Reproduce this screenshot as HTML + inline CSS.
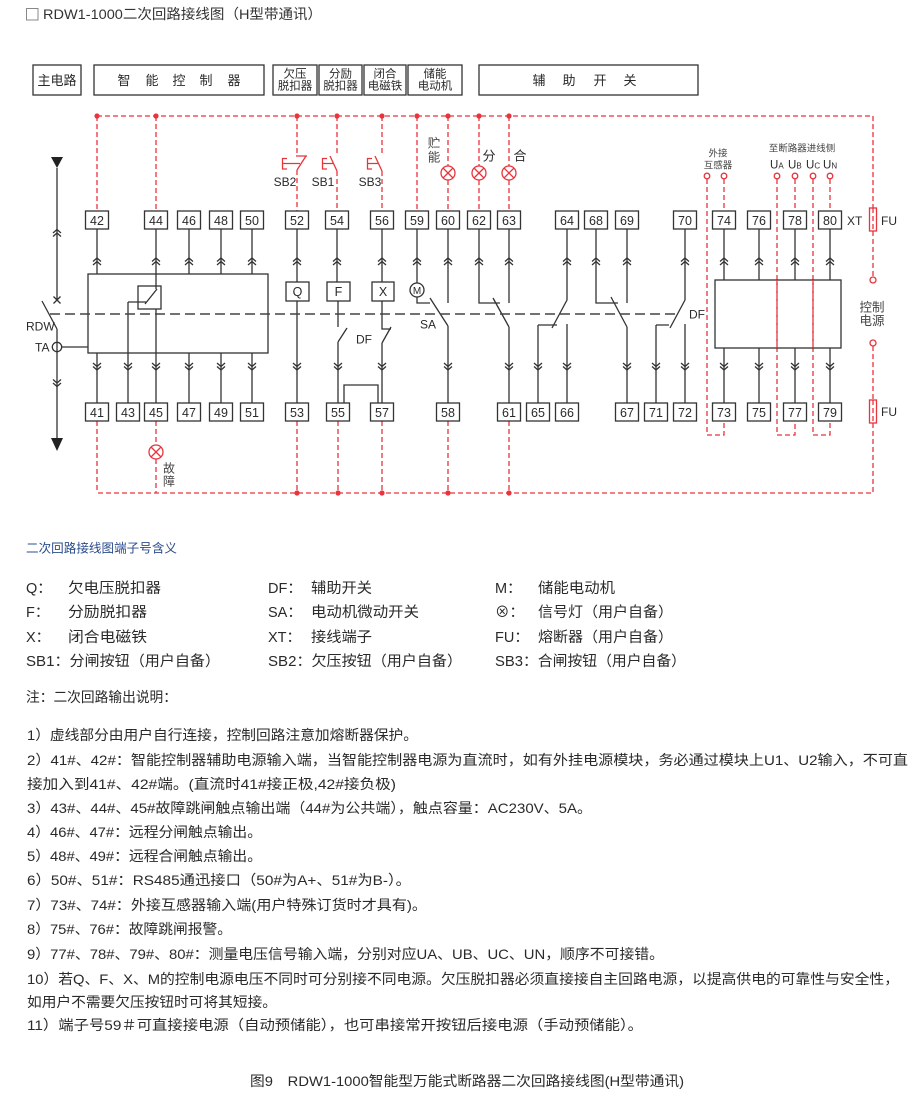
<!DOCTYPE html>
<html>
<head>
<meta charset="utf-8">
<style>
html,body{margin:0;padding:0;background:#fff;}
svg{display:block;}
text{font-family:"Liberation Sans","Noto Sans CJK SC",sans-serif;fill:#2a2a2a;}
.k{stroke:#333;stroke-width:1.3;fill:none;}
.kd{stroke:#444;stroke-width:1.6;fill:none;stroke-dasharray:10 5;}
.r{stroke:#e8343c;stroke-width:1.3;fill:none;stroke-dasharray:5 3;}
.rs{stroke:#e8343c;stroke-width:1.3;fill:none;}
.rf{fill:#e8343c;stroke:none;}
.bx{stroke:#333;stroke-width:1.3;fill:#fff;}
.n{font-size:12.5px;text-anchor:middle;}
.c{text-anchor:middle;}
</style>
</head>
<body>
<svg width="920" height="1093" viewBox="0 0 920 1093" xmlns="http://www.w3.org/2000/svg">

<!-- Title -->
<rect x="26.5" y="8.5" width="11.5" height="11.5" fill="none" stroke="#888" stroke-width="1"/>
<text x="43" y="19" font-size="14" textLength="279" lengthAdjust="spacingAndGlyphs" style="fill:#333">RDW1-1000二次回路接线图（H型带通讯）</text>

<!-- Header boxes -->
<g>
<rect x="33" y="65" width="48" height="30" class="bx"/>
<text x="57" y="85" font-size="13" class="c">主电路</text>
<rect x="94" y="65" width="170" height="30" class="bx"/>
<text x="124" y="85" font-size="13" class="c">智</text>
<text x="152" y="85" font-size="13" class="c">能</text>
<text x="179" y="85" font-size="13" class="c">控</text>
<text x="206" y="85" font-size="13" class="c">制</text>
<text x="234" y="85" font-size="13" class="c">器</text>
<rect x="273" y="65" width="44" height="30" class="bx"/>
<text x="295" y="77.5" font-size="11.5" class="c">欠压</text>
<text x="295" y="89.5" font-size="11.5" class="c">脱扣器</text>
<rect x="319" y="65" width="43" height="30" class="bx"/>
<text x="340.5" y="77.5" font-size="11.5" class="c">分励</text>
<text x="340.5" y="89.5" font-size="11.5" class="c">脱扣器</text>
<rect x="364" y="65" width="42" height="30" class="bx"/>
<text x="385" y="77.5" font-size="11.5" class="c">闭合</text>
<text x="385" y="89.5" font-size="11.5" class="c">电磁铁</text>
<rect x="408" y="65" width="54" height="30" class="bx"/>
<text x="435" y="77.5" font-size="11.5" class="c">储能</text>
<text x="435" y="89.5" font-size="11.5" class="c">电动机</text>
<rect x="479" y="65" width="219" height="30" class="bx"/>
<text x="539" y="85" font-size="13" class="c">辅</text>
<text x="569" y="85" font-size="13" class="c">助</text>
<text x="600" y="85" font-size="13" class="c">开</text>
<text x="630" y="85" font-size="13" class="c">关</text>
</g>

<!-- Red dashed wiring -->
<path class="r" d="M97,116H873V208 M873,231V277 M873,346V400 M873,423V493H97
M97,116V211 M156,116V211 M297,116V155 M297,170V211 M337,116V155 M337,171V211 M382,116V155 M382,171V211
M417,116V211 M448,116V166 M448,180V211 M479,116V166 M479,180V211 M509,116V166 M509,180V211
M97,421V493 M156,421V445 M156,459V493 M297,421V493 M338,421V493 M382,421V493 M448,421V493 M509,421V493
M707,179V435H724V421 M724,179V211 M777,179V435H795V421 M795,179V211 M813,179V435H830V421 M830,179V211
M873,208V231 M873,400V423"/>

<!-- red dots -->
<g class="rf">
<circle cx="97" cy="116" r="2.6"/><circle cx="156" cy="116" r="2.6"/><circle cx="297" cy="116" r="2.6"/>
<circle cx="337" cy="116" r="2.6"/><circle cx="382" cy="116" r="2.6"/><circle cx="417" cy="116" r="2.6"/>
<circle cx="448" cy="116" r="2.6"/><circle cx="479" cy="116" r="2.6"/><circle cx="509" cy="116" r="2.6"/>
<circle cx="297" cy="493" r="2.6"/><circle cx="338" cy="493" r="2.6"/><circle cx="382" cy="493" r="2.6"/>
<circle cx="448" cy="493" r="2.6"/><circle cx="509" cy="493" r="2.6"/>
</g>

<!-- red solid symbols -->
<g class="rs">
<path d="M287,158.5H282.5V169H287 M282.5,163.5H300 M296,156H307 M297,170L306,156"/>
<path d="M327,158.5H322.5V169H327 M322.5,163.5H333 M337,171L330,156"/>
<path d="M372,158.5H367.5V169H372 M367.5,163.5H378 M382,171L375,156"/>
<circle cx="448" cy="173" r="7" fill="#fff"/><path d="M443,168L453,178M453,168L443,178"/>
<circle cx="479" cy="173" r="7" fill="#fff"/><path d="M474,168L484,178M484,168L474,178"/>
<circle cx="509" cy="173" r="7" fill="#fff"/><path d="M504,168L514,178M514,168L504,178"/>
<circle cx="156" cy="452" r="7" fill="#fff"/><path d="M151,447L161,457M161,447L151,457"/>
<circle cx="707" cy="176" r="2.8" fill="#fff"/><circle cx="724" cy="176" r="2.8" fill="#fff"/>
<circle cx="777" cy="176" r="2.8" fill="#fff"/><circle cx="795" cy="176" r="2.8" fill="#fff"/>
<circle cx="813" cy="176" r="2.8" fill="#fff"/><circle cx="830" cy="176" r="2.8" fill="#fff"/>
<circle cx="873" cy="280" r="3" fill="#fff"/><circle cx="873" cy="343" r="3" fill="#fff"/>
<rect x="869.5" y="208" width="7" height="23"/>
<rect x="869.5" y="400" width="7" height="23"/>
</g>

<!-- red area labels -->
<text x="285" y="186" font-size="12" class="c">SB2</text>
<text x="323" y="186" font-size="12" class="c">SB1</text>
<text x="370" y="186" font-size="12" class="c">SB3</text>
<text x="434" y="147.5" font-size="12.5" class="c" style="fill:#444">贮</text>
<text x="434" y="161.5" font-size="12.5" class="c" style="fill:#444">能</text>
<text x="489" y="160.5" font-size="13" class="c">分</text>
<text x="520" y="160.5" font-size="13" class="c">合</text>
<text x="169" y="472.5" font-size="12" class="c" style="fill:#444">故</text>
<text x="169" y="485.5" font-size="12" class="c" style="fill:#444">障</text>
<text x="718" y="156.5" font-size="9.5" class="c" style="fill:#444">外接</text>
<text x="718" y="168.5" font-size="9.5" class="c" style="fill:#444">互感器</text>
<text x="802" y="151.5" font-size="9.5" class="c" style="fill:#444">至断路器进线侧</text>
<text x="770" y="168.5" font-size="11.5">U<tspan font-size="8">A</tspan></text>
<text x="788" y="168.5" font-size="11.5">U<tspan font-size="8">B</tspan></text>
<text x="806" y="168.5" font-size="11.5">U<tspan font-size="8">C</tspan></text>
<text x="823" y="168.5" font-size="11.5">U<tspan font-size="8">N</tspan></text>
<text x="847" y="225" font-size="12">XT</text>
<text x="881" y="225" font-size="12">FU</text>
<text x="881" y="416" font-size="12">FU</text>
<text x="872" y="311.5" font-size="12.5" class="c" style="fill:#444">控制</text>
<text x="872" y="325" font-size="12.5" class="c" style="fill:#444">电源</text>

<!-- Black wiring -->
<path class="k" d="
M97,229V274 M156,229V289 M189,229V274 M221,229V274 M252,229V274
M297,229V282 M337,229V282 M382,229V282 M417,229V283
M448,229V303 M479,229V303H500 M509,229V303 M567,229V300L552,328 M596,229V303H618 M627,229V303 M685,229V300L670,328
M724,229V280 M759,229V280 M795,229V280 M830,229V280
M97,353V403 M128,302V403 M128,302H146 M156,309V403 M189,353V403 M221,353V403 M252,353V403
M297,301V403
M338,301V327 M338,342V403 M338,342L347,328
M382,301V329H391 M382,343V403 M382,343L391,327
M417,297V303H430 M430,298L448,326 M448,326V403
M493,298L509,327 M509,327V403
M538,325H557 M538,325V403 M567,324V403
M611,297L627,327 M627,327V403
M656,325H669 M656,325V403 M685,324V403
M724,348V403 M759,348V403 M795,348V403 M830,348V403
M157,289L145,304
M57,168V300 M57,329V438 M42,301L57,329 M53.5,296.5L60.5,303.5 M60.5,296.5L53.5,303.5 M62,347H88
M344,403V385H378V403"/>

<path d="M51,157H63L57,168Z" fill="#222"/>
<path d="M51,438H63L57,451Z" fill="#222"/>
<circle cx="57" cy="347" r="4.7" class="k"/>
<text x="26" y="330.5" font-size="12">RDW</text>
<text x="35" y="351.5" font-size="12">TA</text>

<rect x="88" y="274" width="180" height="79" class="k"/>
<rect x="138" y="286" width="23" height="23" class="k"/>
<rect x="715" y="280" width="126" height="68" class="k"/>

<path class="kd" d="M50,314H680"/>
<text x="689" y="318.5" font-size="12">DF</text>
<text x="356" y="343.5" font-size="12">DF</text>
<text x="420" y="328.5" font-size="12">SA</text>

<rect x="286" y="282" width="23" height="19" class="bx"/><text x="297.5" y="296" font-size="12.5" class="c">Q</text>
<rect x="327" y="282" width="23" height="19" class="bx"/><text x="338.5" y="296" font-size="12.5" class="c">F</text>
<rect x="372" y="282" width="22" height="19" class="bx"/><text x="383" y="296" font-size="12.5" class="c">X</text>
<circle cx="417" cy="290" r="7" class="bx"/><text x="417" y="294" font-size="10" class="c">M</text>

<path class="r" d="M777,280V348 M813,280V348"/>

<g class="k" stroke-width="1.1">
<path d="
M93,261.5L97,258L101,261.5M93,265L97,261.5L101,265
M152,261.5L156,258L160,261.5M152,265L156,261.5L160,265
M185,261.5L189,258L193,261.5M185,265L189,261.5L193,265
M217,261.5L221,258L225,261.5M217,265L221,261.5L225,265
M248,261.5L252,258L256,261.5M248,265L252,261.5L256,265
M293,261.5L297,258L301,261.5M293,265L297,261.5L301,265
M333,261.5L337,258L341,261.5M333,265L337,261.5L341,265
M378,261.5L382,258L386,261.5M378,265L382,261.5L386,265
M413,261.5L417,258L421,261.5M413,265L417,261.5L421,265
M444,261.5L448,258L452,261.5M444,265L448,261.5L452,265
M475,261.5L479,258L483,261.5M475,265L479,261.5L483,265
M505,261.5L509,258L513,261.5M505,265L509,261.5L513,265
M563,261.5L567,258L571,261.5M563,265L567,261.5L571,265
M592,261.5L596,258L600,261.5M592,265L596,261.5L600,265
M623,261.5L627,258L631,261.5M623,265L627,261.5L631,265
M681,261.5L685,258L689,261.5M681,265L685,261.5L689,265
M720,261.5L724,258L728,261.5M720,265L724,261.5L728,265
M755,261.5L759,258L763,261.5M755,265L759,261.5L763,265
M791,261.5L795,258L799,261.5M791,265L795,261.5L799,265
M826,261.5L830,258L834,261.5M826,265L830,261.5L834,265
M53,233L57,229.5L61,233M53,236.5L57,233L61,236.5
"/>
<path d="
M93,363L97,366.5L101,363M93,366.5L97,370L101,366.5
M124,363L128,366.5L132,363M124,366.5L128,370L132,366.5
M152,363L156,366.5L160,363M152,366.5L156,370L160,366.5
M185,363L189,366.5L193,363M185,366.5L189,370L193,366.5
M217,363L221,366.5L225,363M217,366.5L221,370L225,366.5
M248,363L252,366.5L256,363M248,366.5L252,370L256,366.5
M293,363L297,366.5L301,363M293,366.5L297,370L301,366.5
M334,363L338,366.5L342,363M334,366.5L338,370L342,366.5
M378,363L382,366.5L386,363M378,366.5L382,370L386,366.5
M444,363L448,366.5L452,363M444,366.5L448,370L452,366.5
M505,363L509,366.5L513,363M505,366.5L509,370L513,366.5
M534,363L538,366.5L542,363M534,366.5L538,370L542,366.5
M563,363L567,366.5L571,363M563,366.5L567,370L571,366.5
M623,363L627,366.5L631,363M623,366.5L627,370L631,366.5
M652,363L656,366.5L660,363M652,366.5L656,370L660,366.5
M681,363L685,366.5L689,363M681,366.5L685,370L689,366.5
M720,363L724,366.5L728,363M720,366.5L724,370L728,366.5
M755,363L759,366.5L763,363M755,366.5L759,370L763,366.5
M791,363L795,366.5L799,363M791,366.5L795,370L799,366.5
M826,363L830,366.5L834,363M826,366.5L830,370L834,366.5
M53,379.5L57,383L61,379.5M53,383L57,386.5L61,383
"/>
</g>

<g>
<rect x="85.5" y="211" width="23" height="18" class="bx"/><text x="97" y="225" class="n">42</text>
<rect x="144.5" y="211" width="23" height="18" class="bx"/><text x="156" y="225" class="n">44</text>
<rect x="177.5" y="211" width="23" height="18" class="bx"/><text x="189" y="225" class="n">46</text>
<rect x="209.5" y="211" width="23" height="18" class="bx"/><text x="221" y="225" class="n">48</text>
<rect x="240.5" y="211" width="23" height="18" class="bx"/><text x="252" y="225" class="n">50</text>
<rect x="285.5" y="211" width="23" height="18" class="bx"/><text x="297" y="225" class="n">52</text>
<rect x="325.5" y="211" width="23" height="18" class="bx"/><text x="337" y="225" class="n">54</text>
<rect x="370.5" y="211" width="23" height="18" class="bx"/><text x="382" y="225" class="n">56</text>
<rect x="405.5" y="211" width="23" height="18" class="bx"/><text x="417" y="225" class="n">59</text>
<rect x="436.5" y="211" width="23" height="18" class="bx"/><text x="448" y="225" class="n">60</text>
<rect x="467.5" y="211" width="23" height="18" class="bx"/><text x="479" y="225" class="n">62</text>
<rect x="497.5" y="211" width="23" height="18" class="bx"/><text x="509" y="225" class="n">63</text>
<rect x="555.5" y="211" width="23" height="18" class="bx"/><text x="567" y="225" class="n">64</text>
<rect x="584.5" y="211" width="23" height="18" class="bx"/><text x="596" y="225" class="n">68</text>
<rect x="615.5" y="211" width="23" height="18" class="bx"/><text x="627" y="225" class="n">69</text>
<rect x="673.5" y="211" width="23" height="18" class="bx"/><text x="685" y="225" class="n">70</text>
<rect x="712.5" y="211" width="23" height="18" class="bx"/><text x="724" y="225" class="n">74</text>
<rect x="747.5" y="211" width="23" height="18" class="bx"/><text x="759" y="225" class="n">76</text>
<rect x="783.5" y="211" width="23" height="18" class="bx"/><text x="795" y="225" class="n">78</text>
<rect x="818.5" y="211" width="23" height="18" class="bx"/><text x="830" y="225" class="n">80</text>
</g>
<g>
<rect x="85.5" y="403" width="23" height="18" class="bx"/><text x="97" y="417" class="n">41</text>
<rect x="116.5" y="403" width="23" height="18" class="bx"/><text x="128" y="417" class="n">43</text>
<rect x="144.5" y="403" width="23" height="18" class="bx"/><text x="156" y="417" class="n">45</text>
<rect x="177.5" y="403" width="23" height="18" class="bx"/><text x="189" y="417" class="n">47</text>
<rect x="209.5" y="403" width="23" height="18" class="bx"/><text x="221" y="417" class="n">49</text>
<rect x="240.5" y="403" width="23" height="18" class="bx"/><text x="252" y="417" class="n">51</text>
<rect x="285.5" y="403" width="23" height="18" class="bx"/><text x="297" y="417" class="n">53</text>
<rect x="326.5" y="403" width="23" height="18" class="bx"/><text x="338" y="417" class="n">55</text>
<rect x="370.5" y="403" width="23" height="18" class="bx"/><text x="382" y="417" class="n">57</text>
<rect x="436.5" y="403" width="23" height="18" class="bx"/><text x="448" y="417" class="n">58</text>
<rect x="497.5" y="403" width="23" height="18" class="bx"/><text x="509" y="417" class="n">61</text>
<rect x="526.5" y="403" width="23" height="18" class="bx"/><text x="538" y="417" class="n">65</text>
<rect x="555.5" y="403" width="23" height="18" class="bx"/><text x="567" y="417" class="n">66</text>
<rect x="615.5" y="403" width="23" height="18" class="bx"/><text x="627" y="417" class="n">67</text>
<rect x="644.5" y="403" width="23" height="18" class="bx"/><text x="656" y="417" class="n">71</text>
<rect x="673.5" y="403" width="23" height="18" class="bx"/><text x="685" y="417" class="n">72</text>
<rect x="712.5" y="403" width="23" height="18" class="bx"/><text x="724" y="417" class="n">73</text>
<rect x="747.5" y="403" width="23" height="18" class="bx"/><text x="759" y="417" class="n">75</text>
<rect x="783.5" y="403" width="23" height="18" class="bx"/><text x="795" y="417" class="n">77</text>
<rect x="818.5" y="403" width="23" height="18" class="bx"/><text x="830" y="417" class="n">79</text>
</g>

<text x="26" y="552.5" font-size="12.5" textLength="151" lengthAdjust="spacingAndGlyphs" style="fill:#2c4c8c">二次回路接线图端子号含义</text>

<g font-size="14.5">
<text x="26" y="593">Q：</text><text x="68" y="593" textLength="93" lengthAdjust="spacingAndGlyphs">欠电压脱扣器</text>
<text x="268" y="593">DF：</text><text x="311" y="593" textLength="61" lengthAdjust="spacingAndGlyphs">辅助开关</text>
<text x="495" y="593">M：</text><text x="538" y="593" textLength="77" lengthAdjust="spacingAndGlyphs">储能电动机</text>

<text x="26" y="617">F：</text><text x="68" y="617" textLength="79" lengthAdjust="spacingAndGlyphs">分励脱扣器</text>
<text x="268" y="617">SA：</text><text x="311" y="617" textLength="108" lengthAdjust="spacingAndGlyphs">电动机微动开关</text>
<text x="495" y="617">⊗：</text><text x="538" y="617" textLength="135" lengthAdjust="spacingAndGlyphs">信号灯（用户自备）</text>

<text x="26" y="642">X：</text><text x="68" y="642" textLength="79" lengthAdjust="spacingAndGlyphs">闭合电磁铁</text>
<text x="268" y="642">XT：</text><text x="311" y="642" textLength="61" lengthAdjust="spacingAndGlyphs">接线端子</text>
<text x="495" y="642">FU：</text><text x="538" y="642" textLength="135" lengthAdjust="spacingAndGlyphs">熔断器（用户自备）</text>

<text x="26" y="666" textLength="194" lengthAdjust="spacingAndGlyphs">SB1：分闸按钮（用户自备）</text>
<text x="268" y="666" textLength="194" lengthAdjust="spacingAndGlyphs">SB2：欠压按钮（用户自备）</text>
<text x="495" y="666" textLength="191" lengthAdjust="spacingAndGlyphs">SB3：合闸按钮（用户自备）</text>
</g>

<g font-size="14">
<text x="26" y="702" textLength="151" lengthAdjust="spacingAndGlyphs">注：二次回路输出说明：</text>
<text x="27" y="740" textLength="391" lengthAdjust="spacingAndGlyphs">1）虚线部分由用户自行连接，控制回路注意加熔断器保护。</text>
<text x="27" y="765" textLength="881" lengthAdjust="spacingAndGlyphs">2）41#、42#：智能控制器辅助电源输入端，当智能控制器电源为直流时，如有外挂电源模块，务必通过模块上U1、U2输入，不可直</text>
<text x="27" y="789" textLength="369" lengthAdjust="spacingAndGlyphs">接加入到41#、42#端。(直流时41#接正极,42#接负极)</text>
<text x="27" y="813" textLength="565" lengthAdjust="spacingAndGlyphs">3）43#、44#、45#故障跳闸触点输出端（44#为公共端），触点容量：AC230V、5A。</text>
<text x="27" y="837" textLength="235" lengthAdjust="spacingAndGlyphs">4）46#、47#：远程分闸触点输出。</text>
<text x="27" y="861" textLength="235" lengthAdjust="spacingAndGlyphs">5）48#、49#：远程合闸触点输出。</text>
<text x="27" y="885" textLength="384" lengthAdjust="spacingAndGlyphs">6）50#、51#：RS485通迅接口（50#为A+、51#为B-）。</text>
<text x="27" y="910" textLength="400" lengthAdjust="spacingAndGlyphs">7）73#、74#：外接互感器输入端(用户特殊订货时才具有)。</text>
<text x="27" y="934" textLength="205" lengthAdjust="spacingAndGlyphs">8）75#、76#：故障跳闸报警。</text>
<text x="27" y="959" textLength="637" lengthAdjust="spacingAndGlyphs">9）77#、78#、79#、80#：测量电压信号输入端，分别对应UA、UB、UC、UN，顺序不可接错。</text>
<text x="27" y="984" textLength="872" lengthAdjust="spacingAndGlyphs">10）若Q、F、X、M的控制电源电压不同时可分别接不同电源。欠压脱扣器必须直接接自主回路电源，以提高供电的可靠性与安全性，</text>
<text x="27" y="1007" textLength="250" lengthAdjust="spacingAndGlyphs">如用户不需要欠压按钮时可将其短接。</text>
<text x="27" y="1030" textLength="616" lengthAdjust="spacingAndGlyphs">11）端子号59＃可直接接电源（自动预储能），也可串接常开按钮后接电源（手动预储能）。</text>
<text x="250" y="1086" textLength="434" lengthAdjust="spacingAndGlyphs">图9　RDW1-1000智能型万能式断路器二次回路接线图(H型带通讯)</text>
</g>

</svg>
</body>
</html>
